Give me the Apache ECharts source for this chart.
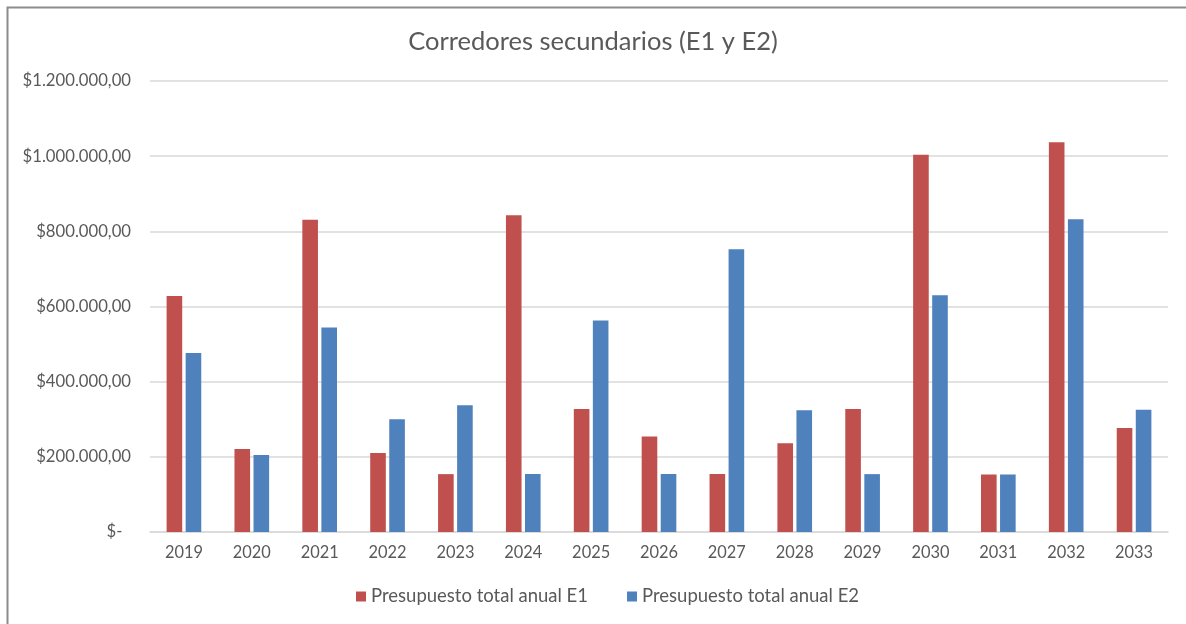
<!DOCTYPE html>
<html>
<head>
<meta charset="utf-8">
<script src="https://cdn.jsdelivr.net/npm/echarts@6/dist/echarts.min.js"></script>
<style>
html,body{margin:0;padding:0;background:#fff;}
#chart{width:1186px;height:624px;}
</style>
</head>
<body>
<div id="chart"></div>
<script>
const categories = ['2019','2020','2021','2022','2023','2024','2025','2026','2027','2028','2029','2030','2031','2032','2033'];
const seriesE1 = [628000, 221000, 831000, 210000, 154000, 843000, 327000, 254000, 154000, 236000, 327000, 1004000, 153000, 1037000, 277000];
const seriesE2 = [476000, 205000, 544000, 300000, 337000, 154000, 563000, 154000, 752000, 324000, 154000, 630000, 153000, 832000, 325000];
const seriesNames = ['Presupuesto total anual E1', 'Presupuesto total anual E2'];
const titleText = 'Corredores secundarios (E1 y E2)';

function fmtMoney(v) {
  if (v === 0) return '$-  ';
  const s = String(Math.round(v)).replace(/\B(?=(\d{3})+(?!\d))/g, '.');
  return '$' + s + ',00';
}

const FONT = 'Lato';
const chart = echarts.init(document.getElementById('chart'), null, {renderer: 'canvas'});
chart.setOption({
  backgroundColor: '#fff',
  animation: false,
  title: {
    text: titleText,
    left: 'center',
    top: 24,
    textStyle: {fontFamily: FONT, fontSize: 25.5, fontWeight: 'normal', color: '#595959'}
  },
  graphic: [{
    type: 'polyline',
    shape: {points: [[7.5, 624], [7.5, 7.5], [1186, 7.5]]},
    style: {stroke: '#8c8c8c', lineWidth: 2, fill: null}
  }],
  legend: {
    bottom: 13,
    left: 351,
    itemWidth: 10,
    itemHeight: 10,
    itemGap: 39,
    icon: 'rect',
    textStyle: {fontFamily: FONT, fontSize: 18.5, color: '#595959'},
    data: seriesNames
  },
  grid: {left: 150, right: 18, top: 81, bottom: 92, containLabel: false},
  xAxis: {
    type: 'category',
    data: categories,
    axisTick: {show: false},
    axisLine: {lineStyle: {color: '#d9d9d9', width: 1.5}},
    axisLabel: {fontFamily: FONT, fontSize: 16.4, color: '#595959', margin: 13}
  },
  yAxis: {
    type: 'value',
    min: 0,
    max: 1200000,
    interval: 200000,
    axisLine: {show: false},
    axisTick: {show: false},
    splitLine: {lineStyle: {color: '#d9d9d9', width: 1.5}},
    axisLabel: {fontFamily: FONT, fontSize: 16.7, color: '#595959', margin: 19, formatter: fmtMoney}
  },
  series: [
    {name: seriesNames[0], type: 'bar', data: seriesE1, barWidth: '23%', barGap: '22%',
     itemStyle: {color: '#C0504D'}},
    {name: seriesNames[1], type: 'bar', data: seriesE2, barWidth: '23%', barGap: '22%',
     itemStyle: {color: '#4F81BD'}}
  ]
});
</script>
</body>
</html>
